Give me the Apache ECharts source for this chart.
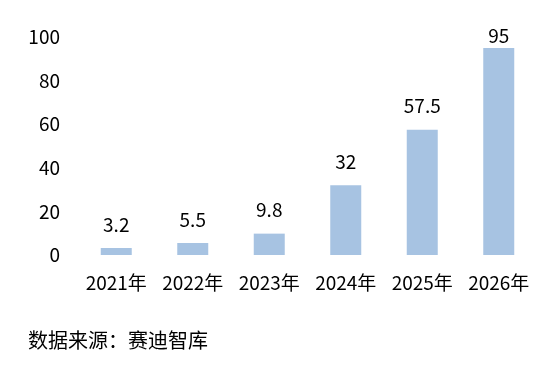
<!DOCTYPE html>
<html><head><meta charset="utf-8">
<script src="https://cdn.jsdelivr.net/npm/echarts@6/dist/echarts.min.js"></script>
<style>html,body{margin:0;padding:0;background:#fff}#c{width:556px;height:368px}</style>
</head><body><div id="c"></div>
<script>
const categories = ['2021年','2022年','2023年','2024年','2025年','2026年'];
const values = [3.2, 5.5, 9.8, 32, 57.5, 95];
const yTicks = [0, 20, 40, 60, 80, 100];
const source = '数据来源：赛迪智库';

const FONT = '"Noto Sans CJK SC", "Noto Sans", sans-serif';
const chart = echarts.init(document.getElementById('c'));
const maxV = Math.max(...values);
chart.setOption({
  animation: false,
  grid: {left: 78, right: 19, top: 37, bottom: 113},
  xAxis: {
    type: 'category', data: categories,
    axisLine: {show: false}, axisTick: {show: false},
    axisLabel: {color: '#000', fontSize: 19, fontFamily: FONT, margin: 18, interval: 0}
  },
  yAxis: {
    type: 'value', min: yTicks[0], max: yTicks[yTicks.length-1], interval: 20,
    splitLine: {show: false}, axisLine: {show: false}, axisTick: {show: false},
    axisLabel: {color: '#000', fontSize: 19, fontFamily: FONT, margin: 18}
  },
  series: [{
    type: 'bar', barWidth: 31,
    itemStyle: {color: '#A7C3E2'},
    label: {show: true, position: 'top', distance: 14, color: '#000', fontSize: 19, fontFamily: FONT},
    data: values.map(v => v === maxV ? {value: v, label: {distance: 3}} : v)
  }],
  graphic: [{
    type: 'text', left: 28, top: 330,
    style: {text: source, fill: '#000', font: '20px ' + FONT}
  }]
});
</script></body></html>
